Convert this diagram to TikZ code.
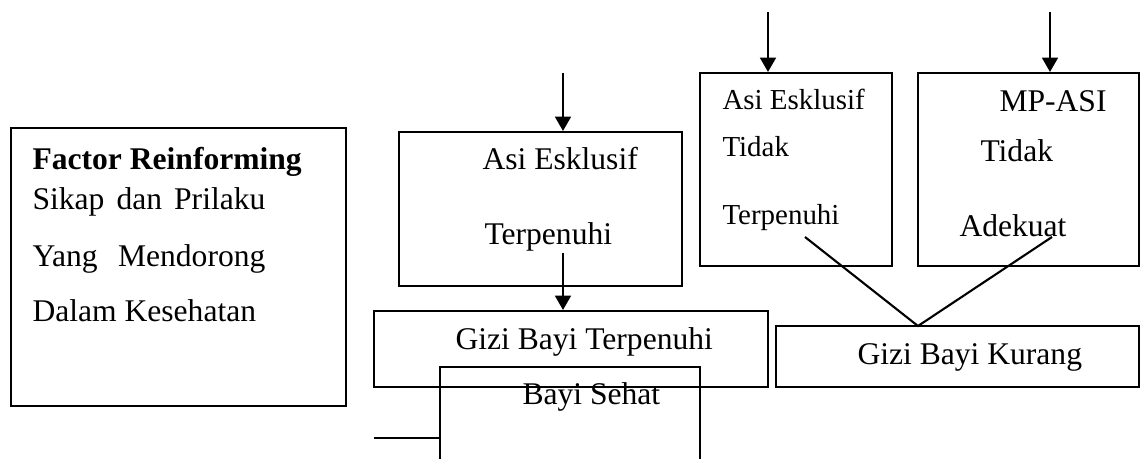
\documentclass[tikz,border=0pt]{standalone}
\usepackage{fontspec}
\setmainfont{Liberation Serif}
\usetikzlibrary{arrows.meta}

\tikzset{
	box/.style={draw, line width=0.8pt, rectangle, inner sep=0pt},
	wh/.style 2 args={minimum width=#1*0.38pt, minimum height=#2*0.38pt},
	txt/.style={anchor=base west, inner sep=0pt, font=\fontsize{12pt}{14pt}\selectfont},
	txtsmall/.style={txt, font=\fontsize{11pt}{13pt}\selectfont},
	arr/.style={line width=0.8pt, -{Triangle[length=5.4pt,width=6pt]}},
	ln/.style={line width=0.8pt}
}

\begin{document}
\begin{tikzpicture}[x=0.38pt,y=-0.38pt]
	\useasboundingbox (0,0) rectangle (1141,459);
	\clip (0,0) rectangle (1141,459);
	% boxes
	\node[box, wh={335}{278}] (reinf) at (178.5,267) {};
	\node[box, wh={283}{154}] (asiok) at (540.5,209) {};
	\node[box, wh={192}{193}] (asino) at (796,169.5) {};
	\node[box, wh={221}{193}] (mpasi) at (1028.5,169.5) {};
	\node[box, wh={394}{76}] (giziok) at (571,349) {};
	\node[box, wh={363}{61}] (gizikur) at (957.5,356.5) {};
	\node[box, wh={260}{130}] (sehat) at (570,432) {};
	% texts
	\node[txt] (reinf1) at (32,170) {\textbf{Factor Reinforming}};
	\node[txt] (reinf2) at (32,210) {\makebox[88.5pt][s]{Sikap dan Prilaku}};
	\node[txt] (reinf3) at (32,267) {\makebox[88.5pt][s]{Yang Mendorong}};
	\node[txt] (reinf4) at (32,322) {Dalam Kesehatan};
	\node[txt] (asiok1) at (482,170) {Asi Esklusif};
	\node[txt] (asiok2) at (484,245) {Terpenuhi};
	\node[txtsmall] (asino1) at (722,110) {Asi Esklusif};
	\node[txtsmall] (asino2) at (722,157) {Tidak};
	\node[txtsmall] (asino3) at (722,225) {Terpenuhi};
	\node[txt] (mpasi1) at (999,112) {MP-ASI};
	\node[txt] (mpasi2) at (980,162) {Tidak};
	\node[txt] (mpasi3) at (959,237) {Adekuat};
	\node[txt] (giziok1) at (455,350) {Gizi Bayi Terpenuhi};
	\node[txt] (gizikur1) at (857,365) {Gizi Bayi Kurang};
	\node[txt] (sehat1) at (522,405) {Bayi Sehat};
	% connectors
	\coordinate (inA) at (563,73);
	\coordinate (inB) at (768,12);
	\coordinate (inC) at (1050,12);
	\coordinate (outA) at (563,253);
	\coordinate (outB) at (805,237);
	\coordinate (outC) at (1052,237);
	\coordinate (meet) at (918,326);
	\coordinate (sideL) at (374,438);
	\draw[arr] (inA) -- (inA |- asiok.north);
	\draw[arr] (inB) -- (inB |- asino.north);
	\draw[arr] (inC) -- (inC |- mpasi.north);
	\draw[arr] (outA) -- (outA |- giziok.north);
	\draw[ln] (outB) -- (meet) -- (outC);
	\draw[ln] (sideL) -- (sideL -| sehat.west);
\end{tikzpicture}
\end{document}
